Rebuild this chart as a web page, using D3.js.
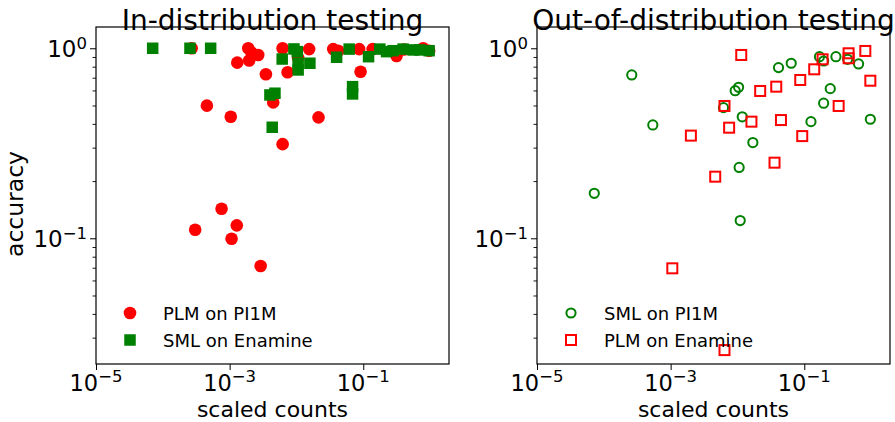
<!DOCTYPE html>
<html>
<head>
<meta charset="utf-8">
<script src="https://cdn.jsdelivr.net/npm/d3@7"></script>
<style>
  html, body { margin: 0; padding: 0; background: #fff; }
  svg { display: block; font-family: "DejaVu Sans", sans-serif; }
</style>
</head>
<body>
<svg id="chart" width="895" height="422"></svg>
<script>
// ---- In-distribution: PLM evaluated on PI1M (scaled count, accuracy)
const plmPi1mX = [2.70e-4, 1.90e-3, 2.13e-3, 2.68e-3, 1.96e-3, 1.30e-3, 3.49e-3, 7.38e-3, 6.21e-3, 4.49e-3,
                  4.57e-4, 1.04e-3, 2.14e-2, 6.21e-3, 1.55e-2, 3.55e-2, 4.22e-2, 8.69e-2, 9.12e-2, 0.138,
                  0.315, 0.787, 0.968, 7.58e-4, 3.05e-4, 1.28e-3, 1.07e-3, 2.91e-3, 1.06e-2, 0.405];
const plmPi1mY = [1.0, 1.0, 0.948, 0.922, 0.863, 0.840, 0.730, 0.748, 1.0, 0.519,
                  0.499, 0.436, 0.433, 0.313, 0.99, 0.99, 0.971, 0.99, 0.753, 0.99,
                  0.911, 1.0, 0.971, 0.143, 0.111, 0.117, 0.0995, 0.0715, 0.889, 0.985];

// ---- In-distribution: SML evaluated on Enamine
const smlEnamineX = [7.05e-5, 2.55e-4, 5.2e-4, 9.17e-3, 1.03e-2, 6.12e-3, 1.06e-2, 1.06e-2, 1.59e-2, 4.01e-3,
                     4.77e-3, 4.34e-3, 3.99e-2, 6.15e-2, 6.92e-2, 6.92e-2, 0.120, 0.177, 0.223, 0.280,
                     0.395, 0.557, 0.703, 0.968];
const smlEnamineY = [1.0, 1.0, 1.0, 0.992, 0.960, 0.878, 0.834, 0.769, 0.834, 0.568,
                     0.580, 0.384, 0.897, 0.99, 0.628, 0.575, 0.903, 0.99, 0.96, 0.971,
                     0.99, 0.98, 0.98, 0.971];

// ---- Out-of-distribution: SML evaluated on PI1M
const smlPi1mX = [2.62e-4, 5.41e-4, 7.2e-5, 6.18e-3, 9.25e-3, 1.04e-2, 1.18e-2, 1.70e-2, 1.06e-2, 1.10e-2,
                  4.12e-2, 6.38e-2, 0.169, 0.298, 0.446, 0.650, 0.245, 0.195, 0.126, 0.975, 0.195];
const smlPi1mY = [0.724, 0.395, 0.1725, 0.487, 0.598, 0.623, 0.436, 0.319, 0.236, 0.124,
                  0.791, 0.834, 0.903, 0.903, 0.875, 0.827, 0.613, 0.514, 0.411, 0.423, 0.857];

// ---- Out-of-distribution: PLM evaluated on Enamine
const plmEnamineX = [1.14e-2, 6.4e-3, 2.01e-3, 7.51e-3, 4.65e-3, 1.06e-3, 6.4e-3, 2.19e-2, 3.81e-2, 1.62e-2,
                     4.48e-2, 3.59e-2, 8.71e-2, 0.141, 9.33e-2, 0.188, 0.461, 0.461, 0.820, 0.975, 0.327];
const plmEnamineY = [0.922, 0.497, 0.347, 0.382, 0.211, 0.0695, 0.0258, 0.596, 0.628, 0.411,
                     0.419, 0.250, 0.681, 0.775, 0.345, 0.875, 0.941, 0.886, 0.968, 0.675, 0.497];

// ---- axis settings
const xDomain = [1e-5, 1.92];
const yDomain = [0.0218, 1.294];
const xTickExps = [-5, -3, -1];
const yTickExps = [0, -1];
const titles = ["In-distribution testing", "Out-of-distribution testing"];
const xLabel = "scaled counts";
const yLabel = "accuracy";
const legendLeft = ["PLM on PI1M", "SML on Enamine"];
const legendRight = ["SML on PI1M", "PLM on Enamine"];

const RED = "#ff0000", GREEN = "#008000";
const svg = d3.select("#chart");
const plotTop = 27, plotBottom = 364;

const panels = [
  { x0: 96, x1: 449 },
  { x0: 537, x1: 890 }
];

// minor tick values inside the y range
const yMinor = [];
[-2, -1, 0].forEach(e => { for (let m = 2; m <= 9; m++) { const v = m * Math.pow(10, e); if (v >= yDomain[0] && v <= yDomain[1]) yMinor.push(v); } });

const supText = e => (e < 0 ? "\u2212" + (-e) : String(e));

function drawPanel(p, idx) {
  const x = d3.scaleLog().domain(xDomain).range([p.x0, p.x1]);
  const y = d3.scaleLog().domain(yDomain).range([plotBottom, plotTop]);
  const g = svg.append("g");

  // markers
  if (idx === 0) {
    g.append("g").selectAll("circle").data(d3.range(plmPi1mX.length)).join("circle")
      .attr("cx", i => x(plmPi1mX[i])).attr("cy", i => y(plmPi1mY[i]))
      .attr("r", 6.3).attr("fill", RED);
    const s = 11.5;
    g.append("g").selectAll("rect").data(d3.range(smlEnamineX.length)).join("rect")
      .attr("x", i => x(smlEnamineX[i]) - s / 2).attr("y", i => y(smlEnamineY[i]) - s / 2)
      .attr("width", s).attr("height", s).attr("fill", GREEN);
  } else {
    g.append("g").selectAll("circle").data(d3.range(smlPi1mX.length)).join("circle")
      .attr("cx", i => x(smlPi1mX[i])).attr("cy", i => y(smlPi1mY[i]))
      .attr("r", 4.6).attr("fill", "none").attr("stroke", GREEN).attr("stroke-width", 2);
    const s = 10;
    g.append("g").selectAll("rect").data(d3.range(plmEnamineX.length)).join("rect")
      .attr("x", i => x(plmEnamineX[i]) - s / 2).attr("y", i => y(plmEnamineY[i]) - s / 2)
      .attr("width", s).attr("height", s).attr("fill", "none").attr("stroke", RED).attr("stroke-width", 2);
  }

  // frame
  g.append("rect").attr("x", p.x0).attr("y", plotTop).attr("width", p.x1 - p.x0).attr("height", plotBottom - plotTop)
    .attr("fill", "none").attr("stroke", "#000").attr("stroke-width", 1.2);

  // x axis ticks
  const xAxis = d3.axisBottom(x).tickValues(xTickExps.map(e => Math.pow(10, e))).tickSize(6).tickFormat("");
  g.append("g").attr("transform", `translate(0,${plotBottom})`).call(xAxis)
    .call(a => a.select(".domain").remove())
    .call(a => a.selectAll("line").attr("stroke", "#000").attr("stroke-width", 1));

  // y axis ticks (major + minor)
  const yAxis = d3.axisLeft(y).tickValues(yTickExps.map(e => Math.pow(10, e))).tickSize(6).tickFormat("");
  g.append("g").attr("transform", `translate(${p.x0},0)`).call(yAxis)
    .call(a => a.select(".domain").remove())
    .call(a => a.selectAll("line").attr("stroke", "#000").attr("stroke-width", 1));
  const yAxisMinor = d3.axisLeft(y).tickValues(yMinor).tickSize(3.5).tickFormat("");
  g.append("g").attr("transform", `translate(${p.x0},0)`).call(yAxisMinor)
    .call(a => a.select(".domain").remove())
    .call(a => a.selectAll("line").attr("stroke", "#000").attr("stroke-width", 0.9));

  // x tick labels as 10^e
  xTickExps.forEach(e => {
    const t = g.append("text").attr("x", x(Math.pow(10, e))).attr("y", 390.5)
      .attr("text-anchor", "middle").attr("font-size", 22.5).attr("fill", "#000");
    t.append("tspan").text("10");
    t.append("tspan").attr("dy", -8.5).attr("font-size", 16.5).text(supText(e));
  });

  // y tick labels
  yTickExps.forEach(e => {
    const t = g.append("text").attr("x", p.x0 - 9).attr("y", y(Math.pow(10, e)) + 8.5)
      .attr("text-anchor", "end").attr("font-size", 23).attr("fill", "#000");
    t.append("tspan").text("10");
    t.append("tspan").attr("dy", -8).attr("font-size", 16.5).text(supText(e));
  });

  // title & axis label
  const cx = (p.x0 + p.x1) / 2;
  g.append("text").attr("x", cx).attr("y", 30).attr("text-anchor", "middle")
    .attr("font-size", 28).attr("fill", "#000").text(titles[idx]);
  g.append("text").attr("x", cx).attr("y", 416.5).attr("text-anchor", "middle")
    .attr("font-size", 22).attr("fill", "#000").text(xLabel);

  // legend
  const lx = p.x0 + 34, tx = p.x0 + 67, rows = [313, 340];
  const labels = idx === 0 ? legendLeft : legendRight;
  if (idx === 0) {
    g.append("circle").attr("cx", lx).attr("cy", rows[0]).attr("r", 6.3).attr("fill", RED);
    g.append("rect").attr("x", lx - 5.75).attr("y", rows[1] - 5.75).attr("width", 11.5).attr("height", 11.5).attr("fill", GREEN);
  } else {
    g.append("circle").attr("cx", lx).attr("cy", rows[0]).attr("r", 4.6)
      .attr("fill", "none").attr("stroke", GREEN).attr("stroke-width", 2);
    g.append("rect").attr("x", lx - 5).attr("y", rows[1] - 5).attr("width", 10).attr("height", 10)
      .attr("fill", "none").attr("stroke", RED).attr("stroke-width", 2);
  }
  labels.forEach((lab, i) => {
    g.append("text").attr("x", tx).attr("y", rows[i] + 6.5).attr("font-size", 18).attr("fill", "#000").text(lab);
  });
}

panels.forEach(drawPanel);

// y label on the left panel
svg.append("text").attr("transform", "translate(23,204) rotate(-90)")
  .attr("text-anchor", "middle").attr("font-size", 23.5).attr("fill", "#000").text(yLabel);
</script>
</body>
</html>
